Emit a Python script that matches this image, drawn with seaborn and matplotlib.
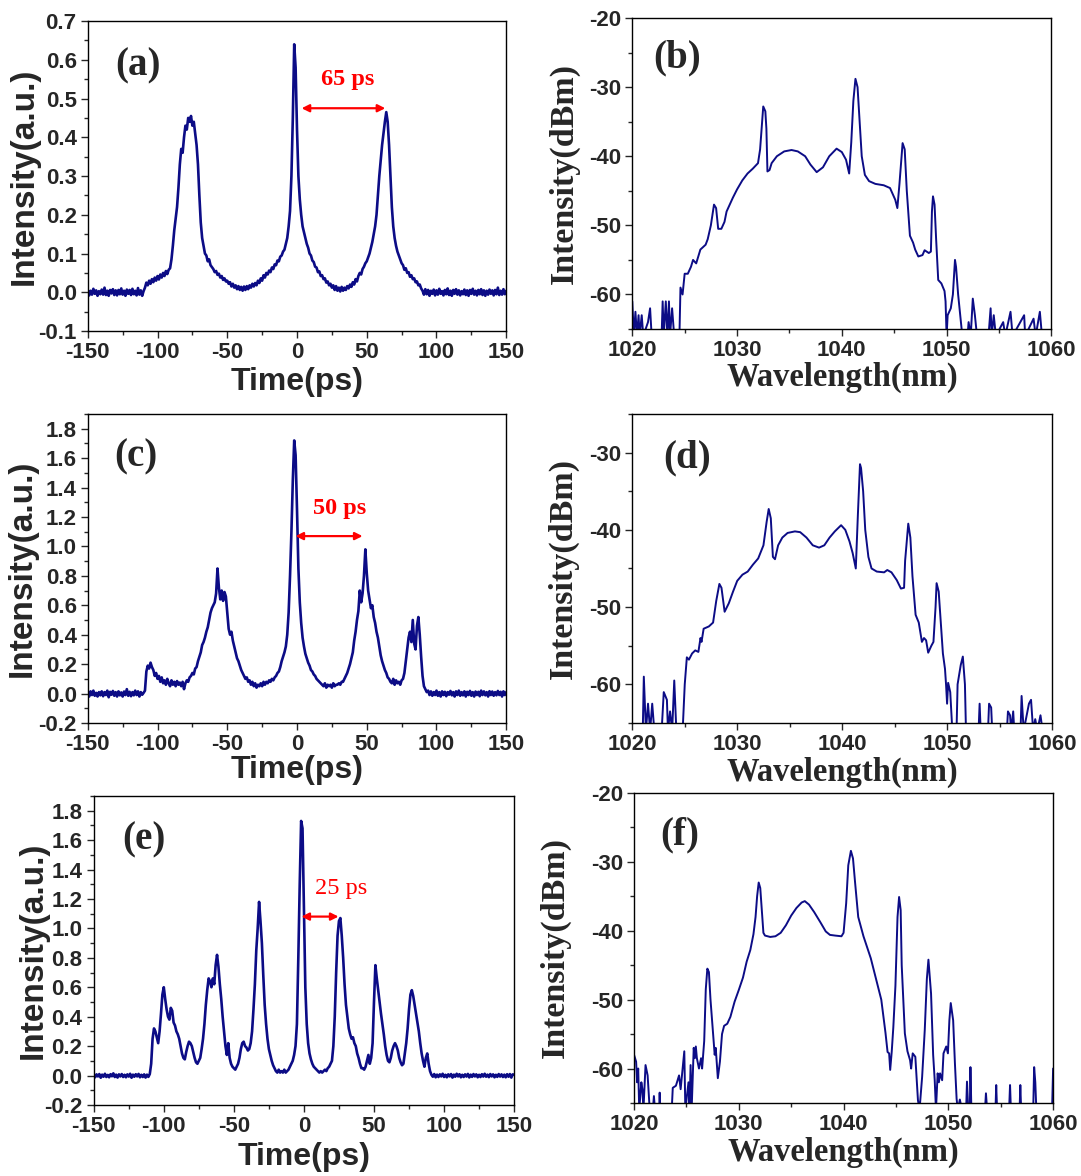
import numpy as np
import pandas as pd
import seaborn as sns
import matplotlib.pyplot as plt
from matplotlib.ticker import MultipleLocator

# ---- dados ----
# autocorrelacao (a), (c), (e): um ponto por ps de -150 a 150
int_a = [
    0.006, -0.008, 0.004, -0.006, 0.009, -0.004, 0.005, -0.009, 0.003, -0.005,   # -150
    0.007, -0.006, 0.012, -0.007, 0.004, -0.009, 0.006, -0.003, 0.008, -0.007,   # -140
    0.005, -0.008, 0.006, -0.005, 0.010, -0.006, 0.004, -0.009, 0.007, -0.004,   # -130
    0.006, -0.007, 0.009, -0.005, 0.004, -0.008, 0.011, -0.006, 0.005, -0.009,   # -120
    0.003, 0.012, 0.025, 0.018, 0.030, 0.022, 0.034, 0.026, 0.038, 0.030,        # -110
    0.042, 0.033, 0.046, 0.038, 0.050, 0.042, 0.055, 0.047, 0.058, 0.062,        # -100
    0.085, 0.12, 0.16, 0.19, 0.22, 0.27, 0.33, 0.37, 0.36, 0.40,                 # -90
    0.43, 0.42, 0.45, 0.44, 0.455, 0.43, 0.44, 0.41, 0.38, 0.33,                 # -80
    0.25, 0.18, 0.14, 0.12, 0.10, 0.095, 0.08, 0.085, 0.07, 0.065,               # -70
    0.06, 0.052, 0.055, 0.045, 0.048, 0.038, 0.042, 0.032, 0.036, 0.028,         # -60
    0.030, 0.022, 0.026, 0.015, 0.022, 0.012, 0.018, 0.008, 0.016, 0.006,        # -50
    0.014, 0.004, 0.015, 0.006, 0.016, 0.008, 0.018, 0.012, 0.022, 0.015,        # -40
    0.024, 0.018, 0.030, 0.024, 0.036, 0.030, 0.044, 0.038, 0.050, 0.046,        # -30
    0.056, 0.052, 0.064, 0.060, 0.072, 0.070, 0.082, 0.080, 0.092, 0.095,        # -20
    0.105, 0.11, 0.125, 0.14, 0.17, 0.21, 0.30, 0.45, 0.64, 0.58,                # -10
    0.42, 0.30, 0.24, 0.20, 0.17, 0.155, 0.14, 0.125, 0.115, 0.10,               # 0
    0.095, 0.082, 0.078, 0.066, 0.064, 0.052, 0.054, 0.042, 0.044, 0.034,        # 10
    0.036, 0.025, 0.028, 0.018, 0.022, 0.012, 0.018, 0.006, 0.016, 0.004,        # 20
    0.012, 0.002, 0.014, 0.004, 0.012, 0.006, 0.016, 0.010, 0.020, 0.014,        # 30
    0.026, 0.020, 0.034, 0.028, 0.042, 0.050, 0.046, 0.060, 0.066, 0.075,        # 40
    0.080, 0.090, 0.10, 0.115, 0.13, 0.15, 0.17, 0.20, 0.25, 0.30,               # 50
    0.34, 0.38, 0.41, 0.44, 0.465, 0.44, 0.38, 0.30, 0.22, 0.17,                 # 60
    0.14, 0.12, 0.105, 0.095, 0.085, 0.075, 0.07, 0.058, 0.062, 0.05,            # 70
    0.052, 0.040, 0.044, 0.034, 0.036, 0.026, 0.028, 0.018, 0.020, 0.010,        # 80
    0.004, -0.006, 0.008, -0.005, 0.006, -0.009, 0.004, -0.004, 0.007, -0.008,   # 90
    0.005, -0.006, 0.009, -0.004, 0.003, -0.008, 0.006, -0.005, 0.010, -0.007,   # 100
    0.004, -0.009, 0.006, -0.004, 0.008, -0.006, 0.005, -0.008, 0.003, -0.005,   # 110
    0.007, -0.007, 0.005, -0.009, 0.006, -0.004, 0.009, -0.006, 0.004, -0.008,   # 120
    0.006, -0.005, 0.008, -0.007, 0.005, -0.009, 0.004, -0.006, 0.007, -0.004,   # 130
    0.005, -0.008, 0.006, -0.005, 0.012, -0.007, 0.004, -0.006, 0.008, -0.005, 0.004,  # 140..150
]

int_c = [
    0.01, -0.02, 0.015, -0.01, 0.02, -0.015, 0.005, -0.02, 0.01, -0.012,         # -150
    0.015, -0.018, 0.01, -0.01, 0.02, -0.025, 0.012, -0.008, 0.018, -0.015,      # -140
    0.01, -0.02, 0.015, -0.012, 0.008, -0.02, 0.014, -0.01, 0.03, -0.015,        # -130
    0.012, -0.018, 0.01, -0.012, 0.02, -0.01, 0.015, -0.02, 0.01, -0.008,        # -120
    0.005, 0.02, 0.15, 0.19, 0.17, 0.21, 0.18, 0.16, 0.12, 0.14,                 # -110
    0.10, 0.12, 0.08, 0.11, 0.07, 0.09, 0.06, 0.10, 0.07, 0.05,                  # -100
    0.09, 0.06, 0.08, 0.05, 0.085, 0.06, 0.075, 0.05, 0.08, 0.03,                # -90
    0.07, 0.09, 0.08, 0.11, 0.12, 0.14, 0.13, 0.17, 0.18, 0.22,                  # -80
    0.25, 0.28, 0.33, 0.35, 0.38, 0.42, 0.45, 0.50, 0.55, 0.58,                  # -70
    0.60, 0.62, 0.68, 0.85, 0.72, 0.64, 0.70, 0.63, 0.69, 0.66,                  # -60
    0.55, 0.44, 0.40, 0.42, 0.36, 0.32, 0.28, 0.24, 0.22, 0.19,                  # -50
    0.16, 0.14, 0.12, 0.10, 0.11, 0.08, 0.09, 0.06, 0.08, 0.05,                  # -40
    0.07, 0.04, 0.06, 0.05, 0.07, 0.05, 0.08, 0.06, 0.08, 0.07,                  # -30
    0.09, 0.08, 0.10, 0.09, 0.11, 0.12, 0.14, 0.15, 0.18, 0.22,                  # -20
    0.25, 0.28, 0.32, 0.40, 0.55, 0.80, 1.10, 1.45, 1.72, 1.62,                  # -10
    1.25, 0.85, 0.62, 0.48, 0.38, 0.32, 0.27, 0.24, 0.21, 0.19,                  # 0
    0.16, 0.15, 0.13, 0.12, 0.10, 0.09, 0.08, 0.07, 0.06, 0.05,                  # 10
    0.07, 0.04, 0.06, 0.05, 0.06, 0.04, 0.07, 0.05, 0.06, 0.06,                  # 20
    0.07, 0.06, 0.08, 0.08, 0.10, 0.12, 0.14, 0.17, 0.20, 0.24,                  # 30
    0.28, 0.36, 0.42, 0.50, 0.56, 0.70, 0.62, 0.68, 0.80, 0.98,                  # 40
    0.82, 0.70, 0.64, 0.58, 0.60, 0.52, 0.48, 0.42, 0.38, 0.32,                  # 50
    0.26, 0.22, 0.19, 0.16, 0.14, 0.11, 0.10, 0.08, 0.07, 0.10,                  # 60
    0.06, 0.09, 0.07, 0.08, 0.06, 0.09, 0.10, 0.14, 0.22, 0.30,                  # 70
    0.38, 0.42, 0.35, 0.50, 0.34, 0.30, 0.46, 0.52, 0.40, 0.25,                  # 80
    0.12, 0.05, 0.03, 0.01, 0.02, -0.01, 0.015, -0.015, 0.01, -0.01,             # 90
    0.02, -0.015, 0.01, -0.02, 0.015, -0.01, 0.012, -0.018, 0.01, -0.008,        # 100
    0.018, -0.012, 0.01, -0.02, 0.015, -0.01, 0.02, -0.015, 0.01, -0.012,        # 110
    0.015, -0.02, 0.012, -0.01, 0.018, -0.015, 0.01, -0.02, 0.014, -0.01,        # 120
    0.012, -0.018, 0.02, -0.01, 0.015, -0.012, 0.01, -0.02, 0.016, -0.01,        # 130
    0.014, -0.015, 0.01, -0.012, 0.018, -0.01, 0.012, -0.02, 0.015, -0.01, 0.01, # 140..150
]

int_e = [
    0.005, -0.012, 0.008, -0.006, 0.01, -0.015, 0.006, -0.008, 0.012, -0.01,     # -150
    0.004, -0.012, 0.009, -0.005, 0.015, -0.01, 0.006, -0.014, 0.008, -0.006,    # -140
    0.01, -0.01, 0.005, -0.012, 0.008, -0.007, 0.012, -0.015, 0.006, -0.008,     # -130
    0.009, -0.006, 0.011, -0.012, 0.005, -0.01, 0.008, -0.014, 0.006, -0.009,    # -120
    0.01, 0.08, 0.25, 0.32, 0.30, 0.26, 0.22, 0.30, 0.42, 0.55,                  # -110
    0.60, 0.52, 0.45, 0.40, 0.38, 0.46, 0.44, 0.36, 0.34, 0.30,                  # -100
    0.28, 0.25, 0.20, 0.15, 0.12, 0.11, 0.16, 0.20, 0.23, 0.22,                  # -90
    0.20, 0.16, 0.12, 0.09, 0.08, 0.10, 0.12, 0.18, 0.25, 0.35,                  # -80
    0.48, 0.58, 0.66, 0.64, 0.60, 0.66, 0.62, 0.75, 0.82, 0.74,                  # -70
    0.62, 0.52, 0.40, 0.30, 0.20, 0.14, 0.22, 0.12, 0.08, 0.06,                  # -60
    0.05, 0.04, 0.06, 0.08, 0.12, 0.18, 0.22, 0.23, 0.20, 0.19,                  # -50
    0.17, 0.18, 0.22, 0.30, 0.45, 0.62, 0.85, 1.00, 1.18, 1.05,                  # -40
    0.90, 0.68, 0.48, 0.35, 0.25, 0.18, 0.14, 0.10, 0.07, 0.05,                  # -30
    0.03, 0.02, 0.04, 0.02, 0.03, 0.02, 0.04, 0.02, 0.03, 0.04,                  # -20
    0.06, 0.08, 0.10, 0.14, 0.20, 0.35, 0.80, 1.30, 1.73, 1.68,                  # -10
    1.15, 0.60, 0.35, 0.22, 0.15, 0.11, 0.08, 0.06, 0.05, 0.04,                  # 0
    0.03, 0.02, 0.03, 0.02, 0.03, 0.04, 0.03, 0.05, 0.06, 0.08,                  # 10
    0.10, 0.20, 0.40, 0.70, 0.95, 1.05, 1.07, 0.95, 0.80, 0.62,                  # 20
    0.48, 0.40, 0.32, 0.28, 0.25, 0.26, 0.22, 0.20, 0.15, 0.12,                  # 30
    0.08, 0.05, 0.05, 0.04, 0.06, 0.10, 0.14, 0.08, 0.12, 0.22,                  # 40
    0.50, 0.75, 0.66, 0.58, 0.50, 0.42, 0.35, 0.28, 0.20, 0.14,                  # 50
    0.10, 0.09, 0.12, 0.17, 0.20, 0.22, 0.20, 0.17, 0.12, 0.09,                  # 60
    0.07, 0.08, 0.15, 0.22, 0.32, 0.45, 0.55, 0.58, 0.54, 0.48,                  # 70
    0.42, 0.36, 0.30, 0.22, 0.15, 0.10, 0.06, 0.12, 0.15, 0.08,                  # 80
    0.03, 0.005, -0.008, 0.01, -0.012, 0.006, -0.01, 0.008, -0.006, 0.012,       # 90
    -0.01, 0.005, -0.012, 0.008, -0.006, 0.01, -0.014, 0.006, -0.008, 0.012,     # 100
    -0.006, 0.009, -0.012, 0.005, -0.01, 0.008, -0.007, 0.011, -0.013, 0.006,   # 110
    -0.009, 0.01, -0.006, 0.008, -0.012, 0.005, -0.01, 0.009, -0.007, 0.012,     # 120
    -0.008, 0.006, -0.011, 0.01, -0.006, 0.008, -0.012, 0.005, -0.009, 0.01,     # 130
    -0.007, 0.008, -0.01, 0.006, -0.012, 0.009, -0.008, 0.01, -0.014, 0.008, 0.005,  # 140..150
]

# espectros (b), (d), (f)
wl_b = [1020.0, 1020.15, 1020.3, 1020.45, 1020.6, 1020.7, 1020.9, 1021.05, 1021.5, 1021.7,
        1021.85, 1022.8, 1022.9, 1023.0, 1023.2, 1023.35, 1023.5, 1023.6, 1023.8, 1024.0,
        1024.5, 1024.6, 1024.8, 1025.0, 1025.3, 1025.6, 1025.8, 1026.1, 1026.5, 1027.0,
        1027.2, 1027.5, 1027.8, 1028.0, 1028.2, 1028.5, 1028.8, 1029.0, 1029.6, 1030.0,
        1030.5, 1031.0, 1031.5, 1032.0, 1032.2, 1032.4, 1032.5, 1032.7, 1032.8, 1032.9,
        1033.1, 1033.3, 1033.8, 1034.5, 1035.2, 1035.8, 1036.5, 1037.0, 1037.6, 1038.2,
        1038.8, 1039.5, 1040.0, 1040.4, 1040.7, 1040.9, 1041.1, 1041.3, 1041.5, 1041.7,
        1041.9, 1042.2, 1042.6, 1043.2, 1044.0, 1044.6, 1045.1, 1045.3, 1045.5, 1045.8,
        1046.0, 1046.2, 1046.5, 1046.8, 1047.0, 1047.3, 1047.7, 1047.9, 1048.3, 1048.5,
        1048.6, 1048.7, 1048.85, 1049.0, 1049.2, 1049.5, 1049.8, 1049.9, 1050.0, 1050.1,
        1050.4, 1050.6, 1050.8, 1050.9, 1051.1, 1051.3, 1051.5, 1052.0, 1052.1, 1052.3,
        1052.5, 1052.7, 1052.9, 1054.0, 1054.2, 1054.3, 1054.5, 1054.7, 1055.4, 1055.6,
        1056.1, 1056.3, 1057.4, 1057.5, 1058.3, 1058.5, 1058.9, 1059.1, 1060.0]
dbm_b = [-61, -66, -62.5, -66, -63, -66, -63, -66, -64, -62,
         -66, -66, -61, -66, -61, -66, -61, -66, -62, -66,
         -66, -59, -60, -57, -57, -56, -55, -55.5, -53.5, -52.8,
         -52, -50, -47, -47.5, -50.5, -50.5, -49.5, -48, -46, -44.8,
         -43.5, -42.5, -41.8, -41, -39, -35, -32.8, -33.5, -36, -42.2,
         -42, -41, -40, -39.3, -39.1, -39.3, -40, -41.2, -42.3, -41.6,
         -40, -38.9, -39.4, -40.5, -42.5, -38, -32, -28.8, -30, -35,
         -40, -42.7, -43.6, -44, -44.2, -44.6, -46.3, -47.5, -44, -38.1,
         -39, -45, -51.5, -52.5, -53.5, -54.5, -54.3, -53.6, -54, -53.8,
         -48, -45.8, -47, -52, -57.9, -58.4, -59.5, -61, -66, -63,
         -62, -60, -55, -56, -60, -63, -66, -66, -64, -66,
         -60.6, -63, -66, -66, -62, -66, -63, -66, -64, -66,
         -62.5, -66, -63, -66, -63.5, -66, -62.5, -66, -66]

wl_d = [1021.0, 1021.1, 1021.3, 1021.5, 1021.7, 1021.9, 1022.1, 1022.8, 1023.0, 1023.3,
        1023.4, 1023.6, 1023.8, 1024.0, 1024.2, 1024.8, 1025.0, 1025.2, 1025.4, 1025.7,
        1026.0, 1026.3, 1026.5, 1026.6, 1026.8, 1027.3, 1027.7, 1028.0, 1028.3, 1028.5,
        1028.8, 1029.2, 1029.6, 1030.0, 1030.5, 1031.0, 1031.5, 1032.0, 1032.5, 1032.8,
        1033.0, 1033.2, 1033.4, 1033.6, 1033.9, 1034.3, 1034.8, 1035.5, 1036.0, 1036.6,
        1037.2, 1037.8, 1038.3, 1038.8, 1039.3, 1039.9, 1040.3, 1040.7, 1041.0, 1041.3,
        1041.5, 1041.7, 1041.8, 1042.0, 1042.2, 1042.5, 1042.8, 1043.3, 1044.0, 1044.3,
        1044.7, 1045.2, 1045.6, 1045.9, 1046.0, 1046.3, 1046.5, 1046.7, 1047.0, 1047.3,
        1047.6, 1047.8, 1048.0, 1048.2, 1048.5, 1048.7, 1048.9, 1049.0, 1049.2, 1049.4,
        1049.6, 1049.8, 1049.9, 1050.0, 1050.1, 1050.3, 1050.5, 1050.9, 1051.0, 1051.3,
        1051.5, 1051.7, 1051.8, 1053.0, 1053.1, 1053.2, 1053.9, 1054.0, 1054.2, 1054.3,
        1055.7, 1055.8, 1056.0, 1056.1, 1056.3, 1056.4, 1057.0, 1057.1, 1057.3, 1057.8,
        1058.0, 1058.2, 1058.4, 1058.6, 1058.9, 1059.1, 1060.0]
dbm_d = [-66, -59, -66, -62.5, -66, -62.5, -66, -66, -61, -62,
         -66, -63.5, -66, -59.5, -66, -66, -60, -56.5, -56.8, -56,
         -55.6, -55.8, -54, -54.5, -52.8, -52.5, -52, -49.2, -47, -47.5,
         -50.6, -49.5, -48, -46.6, -45.8, -45.4, -44.5, -43.7, -42, -39,
         -37.3, -38.5, -43.5, -43.8, -42, -41, -40.4, -40.2, -40.3, -41,
         -42, -42.3, -42, -41, -40.2, -39.4, -40, -41.5, -43, -45,
         -38, -31.5, -32, -35, -40, -43.5, -45, -45.4, -45.5, -45.2,
         -45.5, -46.5, -47.6, -47.5, -44, -39.2, -41, -46, -51, -52,
         -54.5, -54, -54.3, -55.9, -55, -54.5, -50, -46.9, -48, -52,
         -56, -58, -60, -62.5, -59.8, -61, -66, -66, -60, -57.5,
         -56.4, -60, -66, -66, -62.5, -66, -66, -62.5, -63, -66,
         -66, -63.5, -64, -66, -63.5, -66, -66, -61.5, -66, -62.5,
         -62, -66, -64.5, -66, -64, -66, -66]

wl_f = [1020.0, 1020.2, 1020.3, 1020.4, 1020.5, 1020.7, 1020.8, 1020.9, 1021.1, 1021.3,
        1021.5, 1021.8, 1021.9, 1022.0, 1022.4, 1022.45, 1022.5, 1023.6, 1023.7, 1024.0,
        1024.3, 1024.45, 1024.8, 1024.9, 1025.2, 1025.3, 1025.4, 1025.5, 1025.7, 1025.8,
        1025.9, 1026.0, 1026.2, 1026.4, 1026.5, 1026.7, 1026.85, 1027.0, 1027.15, 1027.3,
        1027.5, 1027.7, 1027.8, 1028.0, 1028.2, 1028.4, 1028.6, 1028.9, 1029.2, 1029.6,
        1030.0, 1030.4, 1030.75, 1031.1, 1031.4, 1031.6, 1031.75, 1031.9, 1032.05, 1032.2,
        1032.35, 1032.5, 1033.0, 1033.5, 1034.0, 1034.5, 1035.0, 1035.5, 1036.0, 1036.3,
        1036.7, 1037.2, 1037.8, 1038.3, 1038.7, 1039.2, 1039.8, 1040.0, 1040.25, 1040.45,
        1040.7, 1040.9, 1041.1, 1041.4, 1041.9, 1042.6, 1043.1, 1043.6, 1044.0, 1044.2,
        1044.35, 1044.45, 1044.6, 1044.75, 1044.95, 1045.15, 1045.3, 1045.45, 1045.55, 1045.85,
        1046.1, 1046.35, 1046.45, 1046.6, 1046.85, 1047.1, 1047.25, 1047.5, 1047.75, 1047.95,
        1048.1, 1048.35, 1048.55, 1048.7, 1048.82, 1048.98, 1049.1, 1049.21, 1049.41, 1049.54,
        1049.8, 1049.96, 1050.1, 1050.23, 1050.46, 1050.63, 1050.79, 1050.9, 1051.1, 1051.3,
        1051.7, 1051.78, 1051.9, 1052.05, 1052.11, 1052.2, 1053.5, 1053.59, 1053.7, 1054.5,
        1054.57, 1054.65, 1055.8, 1055.89, 1055.97, 1056.8, 1056.87, 1056.95, 1058.1, 1058.19,
        1058.3, 1058.4, 1059.9, 1060.0]
dbm_f = [-58, -59, -62, -60, -66, -62, -63, -66, -59.5, -61,
         -66, -66, -64, -66, -66, -63.5, -66, -66, -62.8, -62.5,
         -61, -63, -57.5, -66, -62, -66, -59.5, -66, -57, -58.5,
         -56.8, -58.5, -60, -58.5, -60, -56, -48.5, -45.5, -46, -50,
         -54, -58, -57, -61.4, -59, -55, -53.8, -53.5, -52.5, -50.3,
         -48.6, -46.8, -44.5, -42.8, -40.5, -38, -35, -33, -33.8, -37,
         -40.3, -40.7, -40.9, -40.8, -40.3, -39.2, -37.8, -36.7, -35.9, -35.7,
         -36.2, -37.3, -38.8, -40.1, -40.6, -40.7, -40.8, -40.3, -36, -30.5,
         -28.4, -29.5, -33, -38, -40.8, -44, -47, -50, -54.8, -57.6,
         -57.8, -60.2, -57.5, -54, -48, -38, -35.1, -37, -45, -54.9,
         -57.5, -58.8, -60, -57.8, -58.3, -64.6, -66, -61.2, -54.4, -47,
         -44.2, -49.1, -58, -61.7, -66, -60.7, -62, -60.7, -61.7, -57.8,
         -56.8, -57.8, -53, -50.5, -53, -59.3, -64.4, -66, -64.5, -66,
         -66, -61.9, -66, -66, -59.8, -66, -66, -63.6, -66, -66,
         -62.4, -66, -66, -62.4, -66, -66, -62.4, -66, -66, -59.8,
         -62, -66, -66, -60]

# ---- estilo ----
sns.set_style('ticks')
plt.rcParams['font.family'] = ['Liberation Sans', 'DejaVu Sans']
plt.rcParams['axes.unicode_minus'] = False

cor = '#0c0c86'
serif = 'Liberation Serif'

fig = plt.figure(figsize=(10.81, 11.76), dpi=100)

# posicoes dos paineis [esq, base, largura, altura] em fracao da figura
ax_a = fig.add_axes([0.0812, 0.7185, 0.3871, 0.2636])
ax_b = fig.add_axes([0.5849, 0.7202, 0.3877, 0.2645])
ax_c = fig.add_axes([0.0812, 0.3852, 0.3871, 0.2628])
ax_d = fig.add_axes([0.5849, 0.3852, 0.3883, 0.2628])
ax_e = fig.add_axes([0.0867, 0.0604, 0.3889, 0.2628])
ax_f = fig.add_axes([0.5865, 0.0621, 0.3877, 0.2636])


def eixo(ax):
    for s in ax.spines.values():
        s.set_linewidth(1.0)
        s.set_color('black')
        s.set_visible(True)
    ax.tick_params(which='major', direction='out', length=5, width=1,
                   labelsize=16, pad=3, top=False, right=False)
    ax.tick_params(which='minor', direction='out', length=3, width=1,
                   top=False, right=False)
    for lab in ax.get_xticklabels() + ax.get_yticklabels():
        lab.set_fontweight('bold')


def tempo(ax, y, ymin, ymax, ymaj, letra, lx, ly, xl, yl):
    t = np.linspace(-150, 150, len(y))
    df = pd.DataFrame({'t': t, 'I': y})
    sns.lineplot(data=df, x='t', y='I', ax=ax, color=cor, linewidth=1.9,
                 estimator=None, sort=False)
    ax.set_xlim(-150, 150)
    ax.set_ylim(ymin, ymax)
    ax.xaxis.set_major_locator(MultipleLocator(50))
    ax.xaxis.set_minor_locator(MultipleLocator(25))
    ax.yaxis.set_major_locator(MultipleLocator(ymaj))
    ax.yaxis.set_minor_locator(MultipleLocator(ymaj / 2))
    ax.set_xlabel('Time(ps)', fontsize=23, fontweight='bold')
    ax.set_ylabel('Intensity(a.u.)', fontsize=24, fontweight='bold')
    ax.xaxis.set_label_coords(0.5, xl)
    ax.yaxis.set_label_coords(yl, 0.5)
    ax.xaxis.label.set_va('center')
    ax.yaxis.label.set_va('center')
    ax.text(lx, ly, letra, transform=ax.transAxes, ha='center', va='center',
            fontfamily=serif, fontweight='bold', fontsize=28)
    eixo(ax)


def espectro(ax, wl, dbm, ymax, letra, lx, ly, xl, yl):
    df = pd.DataFrame({'wl': wl, 'P': dbm})
    sns.lineplot(data=df, x='wl', y='P', ax=ax, color=cor, linewidth=1.4,
                 estimator=None, sort=False)
    ax.set_xlim(1020, 1060)
    ax.set_ylim(-65, ymax)
    ax.xaxis.set_major_locator(MultipleLocator(10))
    ax.xaxis.set_minor_locator(MultipleLocator(5))
    ax.yaxis.set_major_locator(MultipleLocator(10))
    ax.yaxis.set_minor_locator(MultipleLocator(5))
    ax.set_yticks([v for v in [-20, -30, -40, -50, -60] if v <= ymax])
    ax.set_xlabel('Wavelength(nm)', fontsize=23.5, fontweight='bold', fontfamily=serif)
    ax.set_ylabel('Intensity(dBm)', fontsize=24.5, fontweight='bold', fontfamily=serif)
    ax.xaxis.set_label_coords(0.5, xl)
    ax.yaxis.set_label_coords(yl, 0.5)
    ax.xaxis.label.set_va('center')
    ax.yaxis.label.set_va('center')
    ax.text(lx, ly, letra, transform=ax.transAxes, ha='center', va='center',
            fontfamily=serif, fontweight='bold', fontsize=28)
    eixo(ax)


def seta(ax, x0, x1, y, txt, tx, ty, peso):
    ax.annotate('', xy=(x1, y), xytext=(x0, y),
                arrowprops=dict(arrowstyle='<|-|>', color='red', lw=1.6,
                                mutation_scale=11, shrinkA=0, shrinkB=0))
    ax.text(tx, ty, txt, color='red', ha='center', va='center',
            fontfamily=serif, fontweight=peso, fontsize=17.5)


tempo(ax_a, int_a, -0.1, 0.7, 0.1, '(a)', 0.119, 0.855, -0.165, -0.153)
seta(ax_a, 3.3, 63.3, 0.475, '65 ps', 36, 0.548, 'bold')

espectro(ax_b, wl_b, dbm_b, -20, '(b)', 0.108, 0.871, -0.155, -0.163)

tempo(ax_c, int_c, -0.2, 1.9, 0.2, '(c)', 0.116, 0.861, -0.152, -0.156)
seta(ax_c, -1.1, 47, 1.07, '50 ps', 30.7, 1.26, 'bold')

espectro(ax_d, wl_d, dbm_d, -25, '(d)', 0.130, 0.858, -0.16, -0.165)

tempo(ax_e, int_e, -0.2, 1.9, 0.2, '(e)', 0.120, 0.858, -0.168, -0.145)
seta(ax_e, -1.8, 24.7, 1.08, '25 ps', 26.2, 1.27, 'normal')

espectro(ax_f, wl_f, dbm_f, -20, '(f)', 0.108, 0.865, -0.158, -0.187)

fig.savefig('out.png', dpi=100)
